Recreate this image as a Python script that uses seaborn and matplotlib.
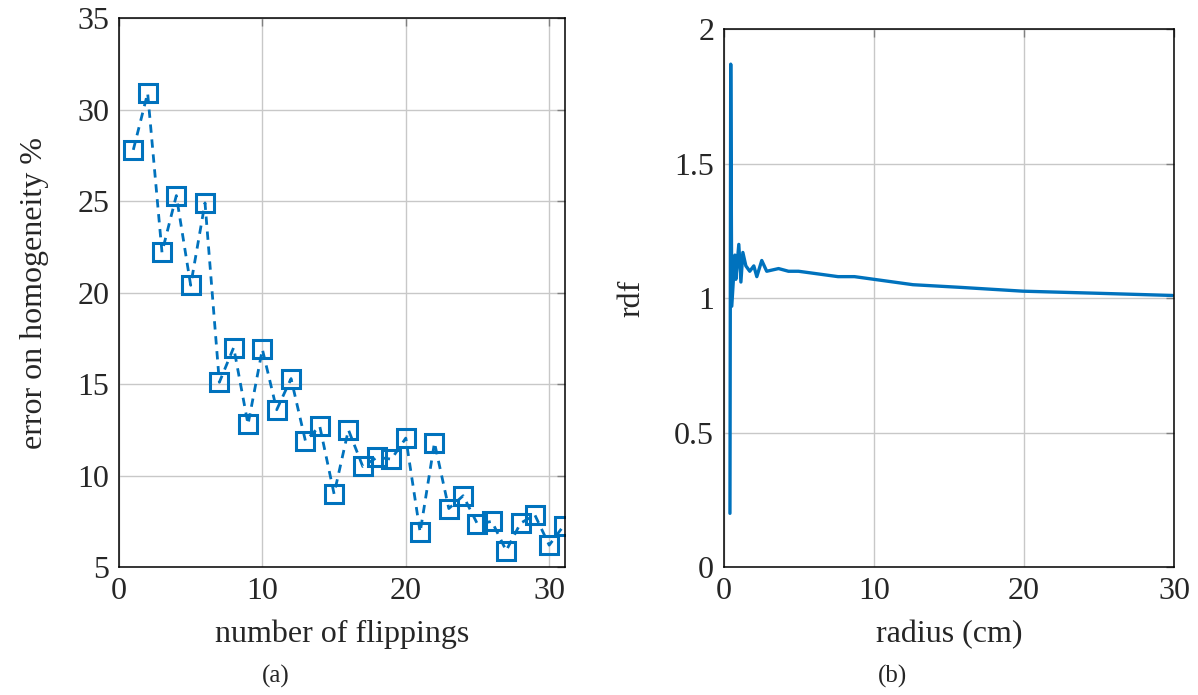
import pandas as pd
import matplotlib
matplotlib.use("Agg")
import matplotlib.pyplot as plt
import seaborn as sns

# left panel: error vs number of flippings
flips = list(range(1, 32))
error = [27.8, 30.9, 22.2, 25.3, 20.4, 24.9, 15.1, 17.0, 12.8, 16.9, 13.6,
         15.3, 11.9, 12.7, 9.0, 12.5, 10.5, 11.0, 10.9, 12.05, 6.9, 11.8,
         8.2, 8.9, 7.35, 7.5, 5.9, 7.4, 7.85, 6.2, 7.25]

# right panel: radial distribution function
radius = [0.40, 0.45, 0.52, 0.73, 0.79, 0.99, 1.13, 1.26, 1.46, 1.72, 1.99,
          2.19, 2.52, 2.85, 3.64, 4.30, 4.97, 6.29, 7.60, 8.70, 10.0, 12.6,
          15.8, 19.9, 25.0, 29.9]
rdf = [0.20, 1.87, 0.97, 1.16, 1.07, 1.20, 1.06, 1.17, 1.12, 1.10, 1.12,
       1.08, 1.14, 1.10, 1.11, 1.10, 1.10, 1.09, 1.08, 1.08, 1.07, 1.05,
       1.04, 1.026, 1.018, 1.01]

df_a = pd.DataFrame({"flips": flips, "error": error})
df_b = pd.DataFrame({"radius": radius, "rdf": rdf})

sns.set_style("white")
plt.rcParams["font.family"] = ["Liberation Serif", "DejaVu Serif"]

blue = "#0072BD"
fig = plt.figure(figsize=(11.98, 6.95), dpi=100)
ax1 = fig.add_axes([0.0993, 0.184, 0.3723, 0.790])
ax2 = fig.add_axes([0.6043, 0.184, 0.3757, 0.774])

sns.lineplot(data=df_a, x="flips", y="error", ax=ax1, color=blue,
             linewidth=2.0, marker="s", markersize=12.5,
             markerfacecolor="none", markeredgecolor=blue,
             markeredgewidth=2.2)
ax1.lines[0].set_linestyle((0, (3.0, 2.4)))
ax1.set_xlim(0, 31.1)
ax1.set_ylim(5, 35)
ax1.set_xticks([0, 10, 20, 30])
ax1.set_yticks([5, 10, 15, 20, 25, 30, 35])
ax1.set_xlabel("number of flippings")
ax1.set_ylabel("error on homogeneity %")

sns.lineplot(data=df_b, x="radius", y="rdf", ax=ax2, color=blue,
             linewidth=2.4, sort=False)
ax2.set_xlim(0, 30)
ax2.set_ylim(0, 2)
ax2.set_xticks([0, 10, 20, 30])
ax2.set_yticks([0, 0.5, 1, 1.5, 2])
ax2.set_yticklabels(["0", "0.5", "1", "1.5", "2"])
ax2.set_xlabel("radius (cm)")
ax2.set_ylabel("rdf")

for ax in (ax1, ax2):
    ax.grid(True, color="#c8c8c8", linewidth=1.0)
    ax.set_axisbelow(True)
    for s in ax.spines.values():
        s.set_color("black")
        s.set_linewidth(1.1)
    ax.tick_params(direction="in", length=6, width=1, color="#808080",
                   top=True, right=True, labelsize=23, pad=7)
    ax.xaxis.label.set_size(23)
    ax.yaxis.label.set_size(23)
    ax.xaxis.labelpad = 10
    ax.yaxis.labelpad = 20

fig.text(0.2304, 0.01, "(a)", ha="center", va="bottom", fontsize=18)
fig.text(0.7446, 0.01, "(b)", ha="center", va="bottom", fontsize=18)

fig.savefig("out.png", dpi=100)
